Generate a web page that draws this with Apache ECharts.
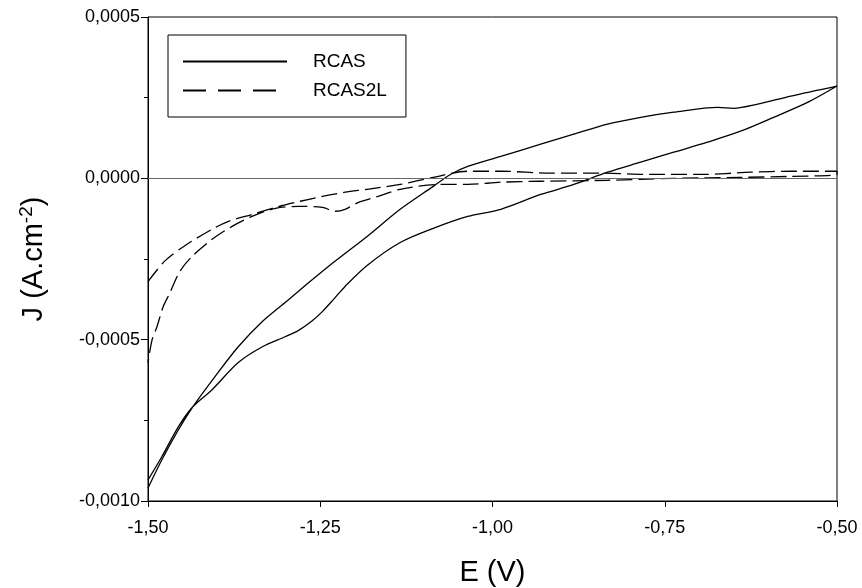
<!DOCTYPE html>
<html>
<head>
<meta charset="utf-8">
<script src="https://cdn.jsdelivr.net/npm/echarts@6/dist/echarts.min.js"></script>
<style>
html,body{margin:0;padding:0;background:#fff;}
#chart{width:862px;height:588px;}
</style>
</head>
<body>
<div id="chart"></div>
<script>
// ---- Data (E in V, J in units of 1e-4 A.cm-2) ----
var rcasFwdE = [-1.500,-1.480,-1.456,-1.435,-1.403,-1.369,-1.334,-1.301,-1.279,-1.231,-1.182,-1.134,-1.086,-1.061,-1.036,-0.988,-0.930,-0.882,-0.833,-0.785,-0.737,-0.673,-0.650,-0.615,-0.567,-0.500];
var rcasFwdJ = [-9.60,-8.73,-7.80,-7.08,-6.15,-5.22,-4.44,-3.85,-3.45,-2.61,-1.80,-0.96,-0.25,0.12,0.37,0.68,1.06,1.37,1.68,1.89,2.05,2.20,2.17,2.30,2.55,2.86];
var rcasRevE = [-0.500,-0.542,-0.592,-0.640,-0.688,-0.737,-0.785,-0.833,-0.882,-0.930,-0.988,-1.036,-1.086,-1.134,-1.182,-1.214,-1.231,-1.247,-1.263,-1.282,-1.301,-1.334,-1.369,-1.407,-1.435,-1.456,-1.480,-1.500];
var rcasRevJ = [2.86,2.36,1.89,1.46,1.12,0.81,0.50,0.19,-0.19,-0.50,-0.96,-1.18,-1.55,-1.99,-2.70,-3.35,-3.76,-4.13,-4.44,-4.72,-4.91,-5.22,-5.71,-6.55,-7.08,-7.70,-8.63,-9.35];

var rcas2lFwdE = [-1.500,-1.475,-1.446,-1.407,-1.384,-1.349,-1.315,-1.279,-1.247,-1.214,-1.182,-1.134,-1.086,-1.036,-0.988,-0.916,-0.843,-0.770,-0.698,-0.625,-0.567,-0.500];
var rcas2lFwdJ = [-3.20,-2.55,-2.08,-1.58,-1.34,-1.12,-0.90,-0.71,-0.56,-0.43,-0.34,-0.19,0.03,0.22,0.22,0.16,0.16,0.12,0.12,0.19,0.22,0.22];
var rcas2lRevE = [-0.500,-0.567,-0.640,-0.737,-0.833,-0.930,-0.988,-1.036,-1.076,-1.134,-1.166,-1.195,-1.214,-1.228,-1.247,-1.282,-1.315,-1.349,-1.378,-1.407,-1.436,-1.454,-1.468,-1.478,-1.487,-1.494,-1.500];
var rcas2lRevJ = [0.12,0.06,0.03,0.00,-0.06,-0.09,-0.12,-0.19,-0.19,-0.34,-0.56,-0.75,-0.96,-1.02,-0.90,-0.87,-0.93,-1.18,-1.49,-1.89,-2.42,-2.89,-3.54,-3.98,-4.60,-5.00,-5.71];

var seriesNames = ['RCAS', 'RCAS2L'];
var jScale = 1e-4;

function pairs(E, J) {
  return E.map(function (e, i) { return [e, J[i] * jScale]; });
}
var rcasData = pairs(rcasFwdE, rcasFwdJ).concat(pairs(rcasRevE, rcasRevJ));
var rcas2lData = pairs(rcas2lFwdE, rcas2lFwdJ).concat(pairs(rcas2lRevE, rcas2lRevJ));

var FONT = '"Liberation Sans", Arial, sans-serif';
var chart = echarts.init(document.getElementById('chart'), null, {renderer: 'canvas'});
chart.setOption({
  backgroundColor: '#ffffff',
  animation: false,
  grid: {left: 148, top: 17, right: 25, bottom: 87, show: true, borderColor: '#000', borderWidth: 1,
    backgroundColor: 'transparent', containLabel: false, outerBoundsMode: 'none'},
  legend: {
    left: 168, top: 35, orient: 'vertical',
    itemWidth: 104, itemHeight: 14, itemGap: 10,
    padding: [17, 19, 17, 14],
    borderColor: '#000', borderWidth: 1,
    selectedMode: false,
    itemStyle: {opacity: 0},
    textStyle: {fontFamily: FONT, fontSize: 19, lineHeight: 14, color: '#000', padding: [0, 0, 0, 21]},
    data: [
      {name: seriesNames[0]},
      {name: seriesNames[1], lineStyle: {type: [23, 12]}}
    ]
  },
  xAxis: {
    type: 'value', min: -1.5, max: -0.5, interval: 0.25,
    name: 'E (V)', nameLocation: 'middle', nameGap: 55,
    nameTextStyle: {fontFamily: FONT, fontSize: 29, color: '#000', lineHeight: 34},
    axisLine: {show: true, onZero: false, lineStyle: {color: '#000', width: 1}},
    axisTick: {show: true, inside: false, length: 6, lineStyle: {color: '#000'}},
    axisLabel: {margin: 18, fontFamily: FONT, fontSize: 18, color: '#000',
      formatter: function (v) { return v.toFixed(2).replace('.', ','); }},
    splitLine: {show: false}
  },
  yAxis: {
    type: 'value', min: -0.001, max: 0.0005, interval: 0.0005,
    name: '{a|J (A.cm}{sup|-2}{a|)}', nameLocation: 'middle', nameGap: 97, nameRotate: 90,
    nameTextStyle: {fontFamily: FONT, fontSize: 29, color: '#000',
      rich: {
        a: {fontFamily: FONT, fontSize: 29, color: '#000', lineHeight: 34},
        sup: {fontFamily: FONT, fontSize: 19, color: '#000', lineHeight: 22, verticalAlign: 'top'}
      }},
    axisLine: {show: true, onZero: false, lineStyle: {color: '#000', width: 1}},
    axisTick: {show: true, inside: false, length: 7, lineStyle: {color: '#000'}},
    minorTick: {show: true, splitNumber: 2, length: 4, lineStyle: {color: '#000'}},
    axisLabel: {margin: 8, fontFamily: FONT, fontSize: 18, color: '#000',
      formatter: function (v) {
        return (Math.abs(v) < 1e-12 ? 0 : v).toFixed(4).replace('.', ',');
      }},
    splitLine: {show: false}
  },
  series: [
    {
      name: seriesNames[0], type: 'line', data: rcasData,
      symbol: 'none', showSymbol: false, smooth: 0.3,
      lineStyle: {color: '#000', width: 1.3, type: 'solid'},
      itemStyle: {color: '#000'},
      markLine: {
        silent: true, symbol: 'none', label: {show: false},
        lineStyle: {color: '#666', width: 1, type: 'solid'},
        data: [{yAxis: 0}]
      }
    },
    {
      name: seriesNames[1], type: 'line', data: rcas2lData,
      symbol: 'none', showSymbol: false, smooth: 0.3,
      lineStyle: {color: '#000', width: 1.3, type: [16, 6]},
      itemStyle: {color: '#000'}
    }
  ]
});
</script>
</body>
</html>
